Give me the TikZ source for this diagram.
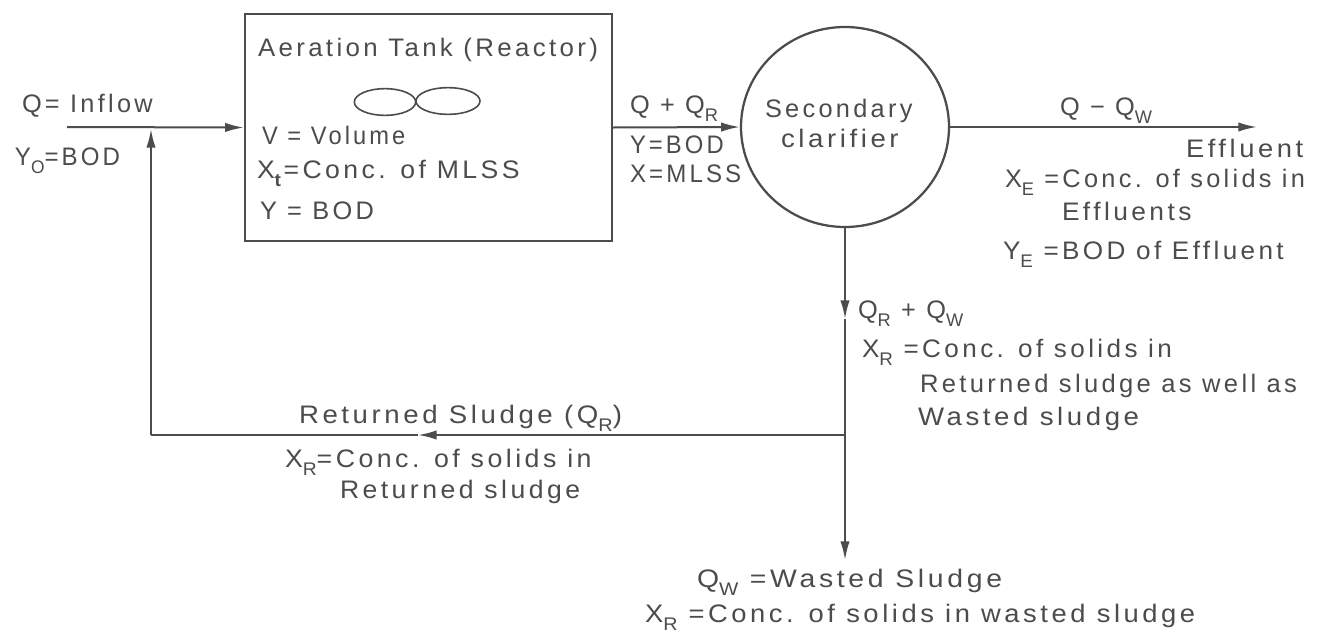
\documentclass[tikz,border=0pt]{standalone}
\usepackage{fontspec}
\usepackage{graphicx}
\setmainfont{Liberation Sans}[LetterSpace=13]
\usetikzlibrary{arrows.meta,shapes.geometric}
\definecolor{ink}{gray}{0.3}
\newcommand{\lowsub}[1]{\raisebox{-0.32em}{\scalebox{0.72}{#1}}}
\tikzset{
  lbl/.style={anchor=base west,inner sep=0pt,outer sep=0pt,text=ink,font=\fontsize{19}{21}\selectfont},
  wide/.style={xscale=#1,transform shape},
  unit/.style={draw=ink,line width=1.7pt,inner sep=0pt,fill=none},
  pipe/.style={draw=ink,line width=1.5pt},
  flow/.style={pipe,-{Latex[length=14pt,width=7pt]}},
  blade/.style={ellipse,draw=ink,line width=1.2pt,inner sep=0pt}
}
\begin{document}
\begin{tikzpicture}[x=0.75pt,y=-0.75pt]
\useasboundingbox (0,0) rectangle (1325,632);
\fill[white] (0,0) rectangle (1325,632);
% units
\node[unit,rectangle,minimum width=275.25pt,minimum height=170.25pt] (tank) at (428.5,127.5) {};
\node[unit,ellipse,minimum width=156pt,minimum height=150pt] (clar) at (845,127) {};
\node[blade,minimum width=46pt,minimum height=20pt] (bladeL) at (385,102) {};
\node[blade,minimum width=48pt,minimum height=20pt] (bladeR) at (448,101) {};
% free ends
\coordinate (in) at (67,127);
\coordinate (junc) at (151,129);
\coordinate (corner) at (151,435);
\coordinate (split) at (845,435);
\coordinate (retmid) at (418,435);
\coordinate (downmid) at (845,319);
\coordinate (waste) at (845,560);
\coordinate (out) at (1257,127);
% connectors
\draw[flow] (in) -- (tank.west);
\draw[flow] (tank.east) -- (clar.west);
\draw[flow] (clar.east) -- (out);
\draw[flow] (clar.south) -- (downmid);
\draw[pipe] (downmid) -- (split);
\draw[flow] (split) -- (waste);
\draw[flow] (split) -- (retmid);
\draw[pipe] (retmid) -- (corner);
\draw[flow] (corner) -- (junc);
% labels
\node[lbl] (t1) at (22,112) {Q= Inflow};
\node[lbl,wide=0.95] (t2) at (15,165) {Y\lowsub{O}=BOD};
\node[lbl,wide=1.02] (t3) at (258,56) {Aeration Tank (Reactor)};
\node[lbl,wide=0.935] (t4) at (262,144) {V = Volume};
\node[lbl,wide=1.05] (t5) at (257,178) {X\lowsub{\textbf{t}}=Conc. of MLSS};
\node[lbl] (t6) at (260,219) {Y = BOD};
\node[lbl] (t7) at (630,113) {Q + Q\lowsub{R}};
\node[lbl,wide=0.94] (t8) at (630,153) {Y=BOD};
\node[lbl,wide=0.95] (t9) at (630,182) {X=MLSS};
\node[lbl] (t10) at (765,117) {Secondary};
\node[lbl,wide=1.09] (t11) at (781,147) {clarifier};
\node[lbl] (t12) at (1060,115) {Q − Q\lowsub{W}};
\node[lbl,wide=1.08] (t13) at (1186,157) {Effluent};
\node[lbl] (t14) at (1005,187) {X\lowsub{E} =Conc. of solids in};
\node[lbl,wide=1.04] (t15) at (1062,220) {Effluents};
\node[lbl,wide=1.03] (t16) at (1003,259) {Y\lowsub{E} =BOD of Effluent};
\node[lbl] (t17) at (858,318) {Q\lowsub{R} + Q\lowsub{W}};
\node[lbl,wide=1.03] (t18) at (862,357) {X\lowsub{R} =Conc. of solids in};
\node[lbl,wide=1.01] (t19) at (920,392) {Returned sludge as well as};
\node[lbl,wide=1.09] (t20) at (918,425) {Wasted sludge};
\node[lbl,wide=1.09] (t21) at (299,423) {Returned Sludge (Q\lowsub{R})};
\node[lbl,wide=1.055] (t22) at (285,467) {X\lowsub{R}=Conc. of solids in};
\node[lbl,wide=1.05] (t23) at (340,498) {Returned sludge};
\node[lbl,wide=1.12] (t24) at (697,587) {Q\lowsub{W} =Wasted Sludge};
\node[lbl,wide=1.08] (t25) at (645,622) {X\lowsub{R} =Conc. of solids in wasted sludge};
\end{tikzpicture}
\end{document}
